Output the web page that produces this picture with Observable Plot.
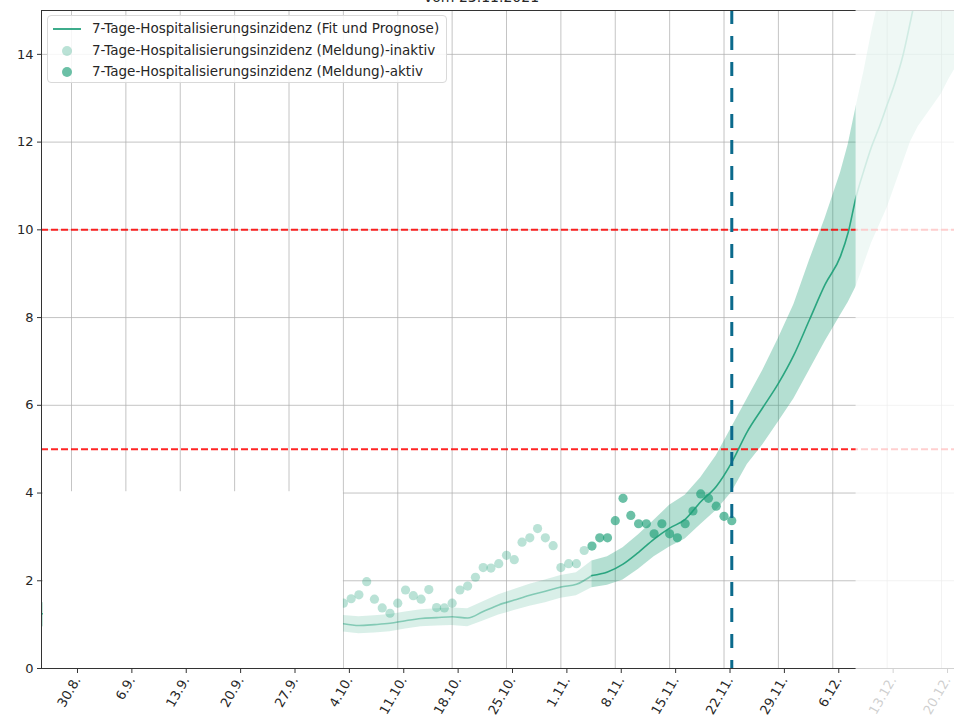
<!DOCTYPE html>
<html>
<head>
<meta charset="utf-8">
<script src="https://cdn.jsdelivr.net/npm/d3@7"></script>
<script src="https://cdn.jsdelivr.net/npm/@observablehq/plot@0.6"></script>
<style>
  html, body { margin: 0; padding: 0; background: #fff; overflow: hidden; }
  #wrap { position: relative; width: 954px; height: 721px; }
  #title { position: absolute; left: 0; top: -11px; width: 963px; text-align: center;
           font: 14px "DejaVu Sans", sans-serif; line-height: 16px; color: #262626; }
  #legend { position: absolute; left: 47px; top: 15px; width: 398px; height: 66px;
            border: 1px solid #d9d9d9; border-radius: 4px; background: rgba(255,255,255,0.85);
            font: 13.5px "DejaVu Sans", sans-serif; color: #262626; z-index: 2; }
  .row { position: absolute; left: 0; height: 20px; line-height: 20px; white-space: nowrap; }
  .row span.t { position: absolute; left: 44px; }
  .sw-line { position: absolute; left: 5px; top: 10px; width: 28px; height: 2px; background: #1b9e77; opacity: .85; }
  .sw-dot { position: absolute; left: 14px; top: 6px; width: 10px; height: 10px; border-radius: 50%; background: #1b9e77; }
</style>
</head>
<body>
<div id="wrap">
  <div id="chart"></div>
  <div id="title">vom 23.11.2021</div>
  <div id="legend">
    <div class="row" style="top:2px;width:100%"><div class="sw-line"></div><span class="t">7-Tage-Hospitalisierungsinzidenz (Fit und Prognose)</span></div>
    <div class="row" style="top:24px;width:100%"><div class="sw-dot" style="opacity:.3"></div><span class="t">7-Tage-Hospitalisierungsinzidenz (Meldung)-inaktiv</span></div>
    <div class="row" style="top:45px;width:100%"><div class="sw-dot" style="opacity:.65"></div><span class="t">7-Tage-Hospitalisierungsinzidenz (Meldung)-aktiv</span></div>
  </div>
</div>
<script>
// ---------- data ----------
const xTickDates = ["2021-08-30","2021-09-06","2021-09-13","2021-09-20","2021-09-27","2021-10-04","2021-10-11","2021-10-18","2021-10-25","2021-11-01","2021-11-08","2021-11-15","2021-11-22","2021-11-29","2021-12-06","2021-12-13","2021-12-20"];
const xTickLabels = ["30.8.","6.9.","13.9.","20.9.","27.9.","4.10.","11.10.","18.10.","25.10.","1.11.","8.11.","15.11.","22.11.","29.11.","6.12.","13.12.","20.12."];
const yTicks = [0,2,4,6,8,10,12,14];

// Fit und Prognose (mid, lower, upper)
const fitDates = ["2021-10-04","2021-10-06","2021-10-08","2021-10-10","2021-10-12","2021-10-14","2021-10-16","2021-10-18","2021-10-20","2021-10-22","2021-10-24","2021-10-26","2021-10-28","2021-10-30","2021-11-01","2021-11-03","2021-11-05","2021-11-07","2021-11-09","2021-11-11","2021-11-13","2021-11-15","2021-11-17","2021-11-19","2021-11-21","2021-11-23","2021-11-25","2021-11-27","2021-11-29","2021-12-01","2021-12-03","2021-12-05","2021-12-07","2021-12-08","2021-12-09","2021-12-10","2021-12-11","2021-12-12","2021-12-13","2021-12-14","2021-12-15","2021-12-16","2021-12-17","2021-12-18","2021-12-19","2021-12-20","2021-12-21","2021-12-22"];
const fitMid = [1.02,0.98,1.00,1.03,1.09,1.14,1.16,1.18,1.15,1.30,1.45,1.56,1.67,1.76,1.86,1.92,2.12,2.20,2.38,2.65,2.95,3.20,3.40,3.80,4.15,4.70,5.40,5.95,6.50,7.15,7.95,8.75,9.40,9.95,10.75,11.35,11.90,12.35,12.85,13.35,13.95,14.75,15.60,16.40,17.20,18.00,18.80,19.50];
const fitLo  = [0.83,0.79,0.81,0.84,0.90,0.95,0.97,0.98,0.95,1.08,1.22,1.32,1.42,1.50,1.60,1.66,1.84,1.90,2.02,2.26,2.55,2.77,2.95,3.28,3.60,4.02,4.65,5.10,5.62,6.15,6.80,7.45,8.05,8.35,8.70,9.20,9.70,10.10,10.50,11.00,11.50,12.00,12.35,12.60,12.85,13.10,13.45,13.75];
const fitHi  = [1.21,1.18,1.20,1.23,1.29,1.34,1.36,1.38,1.36,1.52,1.68,1.80,1.92,2.02,2.12,2.18,2.45,2.55,2.75,3.05,3.38,3.72,3.95,4.35,4.85,5.50,6.15,6.80,7.52,8.30,9.30,10.25,11.30,11.95,12.80,13.60,14.50,15.30,16.20,17.00,17.80,18.60,19.40,20.20,21.00,21.80,22.60,23.40];

// sliver of the earlier fit, visible at the left edge
const earlyDates = ["2021-08-25","2021-08-27"];
const earlyMid = [1.25,1.25];
const earlyLo  = [0.95,0.95];
const earlyHi  = [1.50,1.50];

// Meldungen (daily)
const meldStart = "2021-10-04";
const meldValues = [1.49,1.59,1.68,1.98,1.58,1.38,1.26,1.49,1.79,1.66,1.58,1.80,1.39,1.38,1.49,1.79,1.88,2.08,2.30,2.29,2.39,2.58,2.48,2.88,2.98,3.19,2.98,2.80,2.30,2.39,2.39,2.69,
                    2.79,2.98,2.98,3.37,3.88,3.49,3.30,3.30,3.07,3.30,3.07,2.98,3.30,3.59,3.98,3.88,3.70,3.47,3.37];

const activeFrom = "2021-11-05";   // start of "aktiv" period
const forecastFrom = "2021-12-09"; // start of faded forecast region
const reportDate = "2021-11-23";
const thresholds = [5, 10];
const domainStart = "2021-08-26T03:20Z";
const domainEnd = "2021-12-21T16:05Z";
const maskStart = "2021-08-26T09:00Z";
const maskTop = 4.03;

// ---------- build ----------
const D = s => new Date(s.length === 10 ? s + "T00:00Z" : s);
const teal = "#1b9e77";
const fit = fitDates.map((d, i) => ({date: D(d), mid: fitMid[i], lo: fitLo[i], hi: fitHi[i]}));
const early = earlyDates.map((d, i) => ({date: D(d), mid: earlyMid[i], lo: earlyLo[i], hi: earlyHi[i]}));
const aF = D(activeFrom);
const fitInactive = fit.filter(d => d.date <= aF);
const fitActive = fit.filter(d => d.date >= aF);
const meld = meldValues.map((v, i) => ({date: d3.utcDay.offset(D(meldStart), i), value: v}));
const meldInactive = meld.filter(d => d.date < aF);
const meldActive = meld.filter(d => d.date >= aF);
const ticks = xTickDates.map(D);
const labelOf = new Map(ticks.map((t, i) => [+t, xTickLabels[i]]));

const chart = Plot.plot({
  width: 954,
  height: 721,
  marginLeft: 41,
  marginRight: 0,
  marginTop: 10,
  marginBottom: 53,
  style: {fontFamily: "DejaVu Sans, sans-serif", color: "#262626", background: "transparent"},
  x: {type: "utc", domain: [D(domainStart), D(domainEnd)]},
  y: {domain: [0, 15]},
  marks: [
    Plot.gridX(ticks, {stroke: "#b0b0b0", strokeOpacity: 0.75, strokeWidth: 1}),
    Plot.gridY(yTicks, {stroke: "#b0b0b0", strokeOpacity: 0.75, strokeWidth: 1}),
    Plot.areaY(early, {x: "date", y1: "lo", y2: "hi", fill: teal, fillOpacity: 0.3, clip: true}),
    Plot.lineY(early, {x: "date", y: "mid", stroke: teal, strokeWidth: 1.5, clip: true}),
    Plot.areaY(fitInactive, {x: "date", y1: "lo", y2: "hi", fill: teal, fillOpacity: 0.17, clip: true}),
    Plot.areaY(fitActive, {x: "date", y1: "lo", y2: "hi", fill: teal, fillOpacity: 0.33, clip: true}),
    Plot.ruleY(thresholds, {stroke: "#ff0000", strokeOpacity: 0.85, strokeWidth: 2, strokeDasharray: "7,3"}),
    Plot.lineY(fitInactive, {x: "date", y: "mid", stroke: teal, strokeOpacity: 0.45, strokeWidth: 1.6, curve: "monotone-x", clip: true}),
    Plot.lineY(fitActive, {x: "date", y: "mid", stroke: teal, strokeOpacity: 0.9, strokeWidth: 1.6, curve: "monotone-x", clip: true}),
    Plot.dot(meldInactive, {x: "date", y: "value", r: 4.6, fill: teal, fillOpacity: 0.3}),
    Plot.dot(meldActive, {x: "date", y: "value", r: 4.6, fill: teal, fillOpacity: 0.65}),
    Plot.ruleX([D(reportDate)], {stroke: "#0b6a8c", strokeWidth: 3, strokeDasharray: "14,12"}),
    // white mask over the lower left part
    Plot.rect([0], {x1: () => D(maskStart), x2: () => D(meldStart), y1: () => 0, y2: () => maskTop, fill: "white"}),
    // spines
    Plot.ruleX([D(domainStart)], {stroke: "#333", strokeWidth: 1}),
    Plot.ruleY([0, 15], {stroke: "#333", strokeWidth: 1}),
    Plot.axisY(yTicks, {tickSize: 4, tickPadding: 4, fontSize: 13, label: null, stroke: "#333"}),
    Plot.axisX(ticks, {tickSize: 5, tickPadding: 4, tickRotate: -60, fontSize: 13, dx: 6, label: null, stroke: "#333",
                       tickFormat: d => labelOf.get(+d)}),
    // faded forecast region
    Plot.rect([0], {x1: () => D(forecastFrom), x2: () => D(domainEnd), y1: () => -4, y2: () => 16, fill: "white", fillOpacity: 0.78})
  ]
});
document.getElementById("chart").appendChild(chart);
</script>
</body>
</html>
